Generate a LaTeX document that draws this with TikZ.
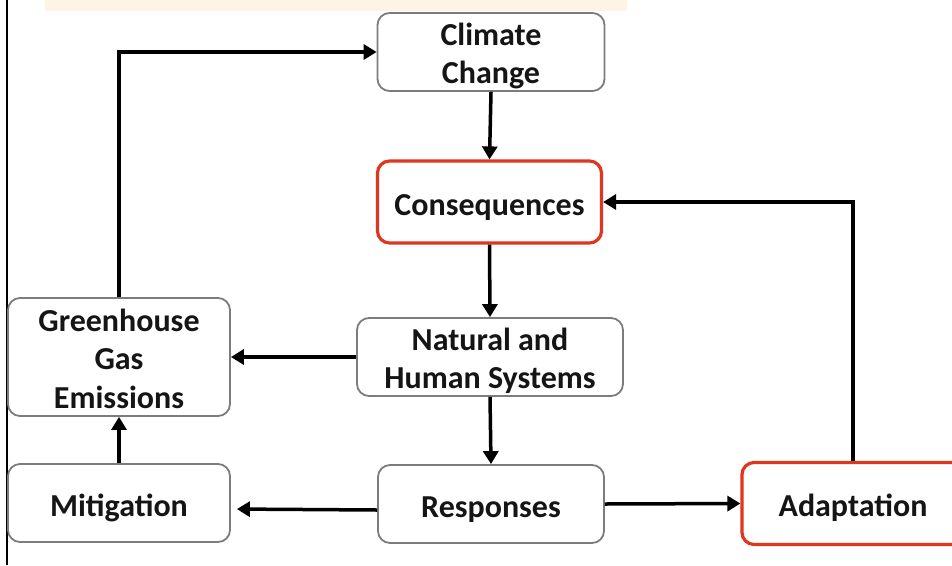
\documentclass[tikz,border=0pt]{standalone}
\usepackage{fontspec}
\setmainfont{Carlito}
\usetikzlibrary{arrows.meta}
\definecolor{boxgray}{HTML}{7C7C7C}
\definecolor{boxred}{HTML}{E0351E}
\definecolor{band}{HTML}{FCF5E6}
\definecolor{ink}{HTML}{151515}
% struts that fix the height of the first line and the depth of the last one
\newcommand\topstrut{\rule{0pt}{31pt}}
\newcommand\botstrut{\rule[-6pt]{0pt}{6pt}}
\tikzset{
  box/.style={draw=boxgray, line width=1.8pt, rounded corners=12pt, fill=white,
    align=center, text=ink, inner sep=0pt,
    font=\bfseries\fontsize{32}{38.5}\selectfont},
  redbox/.style={box, draw=boxred, line width=3.2pt},
  arr/.style={draw=black, line width=3.5pt,
    -{Triangle[length=13pt,width=15pt]}},
}
\begin{document}
\begin{tikzpicture}[x=1pt,y=-1pt]
\useasboundingbox (0,0) rectangle (952,565);
\clip (0,0) rectangle (952,565);
% page furniture
\fill[band] (45,0) rectangle (627,11);
\draw[black, line width=2pt] (7,0) -- (7,565);
% boxes
\node[box, minimum width=227pt, minimum height=78pt] (climate) at (491,52)
  {\topstrut Climate\\Change\botstrut};
\node[redbox, minimum width=224pt, minimum height=82pt] (cons) at (489.5,202)
  {\rule{0pt}{32pt}Consequences\botstrut};
\node[box, minimum width=266pt, minimum height=78pt] (nat) at (490,357)
  {\topstrut Natural and\\Human Systems\botstrut};
\node[box, minimum width=222pt, minimum height=118pt] (ghg) at (119,357)
  {\topstrut Greenhouse\\Gas\\Emissions\botstrut};
\node[box, minimum width=222pt, minimum height=78pt] (mit) at (119,503)
  {\rule{0pt}{32pt}Mitigation\botstrut};
\node[box, minimum width=226pt, minimum height=78pt] (resp) at (491,504)
  {\rule{0pt}{32pt}Responses\botstrut};
\node[redbox, minimum width=222pt, minimum height=82pt] (adapt) at (853,503.5)
  {\rule{0pt}{32pt}Adaptation\botstrut};
% connectors
\draw[arr] (ghg.north) |- (climate.west);
\draw[arr] (climate.south) -- (cons.north);
\draw[arr] (cons.south) -- (nat.north);
\draw[arr] (nat.south) -- (resp.north);
\draw[arr] (nat.west) -- (ghg.east);
\draw[arr] (mit.north) -- (ghg.south);
\draw[arr, shorten >=6pt] ([yshift=-6pt]resp.west) -- ([yshift=-6pt]mit.east);
\draw[arr] (resp.east) -- (adapt.west);
\draw[arr] (adapt.north) |- (cons.east);
\end{tikzpicture}
\end{document}
